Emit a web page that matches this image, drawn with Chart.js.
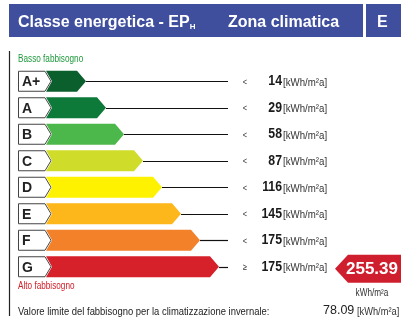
<!DOCTYPE html>
<html>
<head>
<meta charset="utf-8">
<script src="https://cdn.jsdelivr.net/npm/chart.js@4.4.0/dist/chart.umd.min.js"></script>
<style>
  body { margin: 0; background: #fff; }
  #wrap { position: relative; width: 411px; height: 326px; overflow: hidden; }
  #c { position: absolute; left: 0; top: 0; }
  #hdr { position: absolute; left: 9px; top: 4px; width: 392px; height: 33px; background: #3f4f9e;
         color: #fff; font: bold 16px "Liberation Sans", Arial, sans-serif; }
  #hdr span { position: absolute; top: 1px; line-height: 33px; white-space: nowrap; }
  #hdr sub { font-size: 8px; vertical-align: -2px; }
  #hdr .sep { position: absolute; left: 354px; top: 0; width: 3px; height: 33px; background: #fff; }
</style>
</head>
<body>
<div id="wrap">
  <canvas id="c" width="411" height="326"></canvas>
  <div id="hdr">
    <span style="left:9px">Classe energetica - EP<sub>H</sub></span>
    <span style="left:219px">Zona climatica</span>
    <div class="sep"></div>
    <span style="left:368px" id="zone"></span>
  </div>
</div>
<script>
const classes = ['A+', 'A', 'B', 'C', 'D', 'E', 'F', 'G'];
const barLengths = [40, 60, 78, 97, 116, 135, 154, 173];
const limitOps = ['<', '<', '<', '<', '<', '<', '<', '\u2265'];
const limitValues = [14, 29, 58, 87, 116, 145, 175, 175];
const classColors = ['#0b5f2d', '#0e7a3a', '#4cb74a', '#cfdd2a', '#fff200', '#fdb71a', '#f2812a', '#d6202a'];
const unitLabel = '[kWh/m\u00b2a]';
const epValue = 255.39;
const limitValue = 78.09;
const zone = 'E';

document.getElementById('zone').textContent = zone;

// narrow font if installed, otherwise squeeze the normal one
function hasFont(name) {
  const c = document.createElement('canvas').getContext('2d');
  c.font = '20px monospace';
  const a = c.measureText('abcdefgWWWiii').width;
  c.font = '20px "' + name + '", monospace';
  return c.measureText('abcdefgWWWiii').width !== a;
}
const narrowOk = hasFont('Liberation Sans Narrow');

function narrowText(ctx, txt, x, y, size, weight, align) {
  ctx.save();
  ctx.textAlign = align || 'left';
  ctx.textBaseline = 'middle';
  if (narrowOk) {
    ctx.font = (weight || '') + ' ' + size + 'px "Liberation Sans Narrow"';
    ctx.fillText(txt, x, y);
  } else {
    ctx.font = (weight || '') + ' ' + size + 'px "Liberation Sans", Arial';
    ctx.translate(x, y);
    ctx.scale(0.82, 1);
    ctx.fillText(txt, 0, 0);
  }
  ctx.restore();
}

const labelPlugin = {
  id: 'energyLabel',
  afterDraw(chart) {
    const ctx = chart.ctx;
    const area = chart.chartArea;
    const bars = chart.getDatasetMeta(0).data;

    // left rule
    ctx.save();
    ctx.strokeStyle = '#222';
    ctx.lineWidth = 1.2;
    ctx.beginPath();
    ctx.moveTo(9.5, 51);
    ctx.lineTo(9.5, 316);
    ctx.stroke();

    ctx.fillStyle = '#1f9a3c';
    narrowText(ctx, 'Basso fabbisogno', 18, 59, 10);

    bars.forEach((bar, i) => {
      const top = bar.y - bar.height / 2;
      const bot = bar.y + bar.height / 2;
      const x0 = bar.base;
      const x1 = bar.x;

      // class box
      ctx.beginPath();
      ctx.moveTo(18.5, top + 0.5);
      ctx.lineTo(x0 - 1, top + 0.5);
      ctx.lineTo(x0 + 5, bar.y);
      ctx.lineTo(x0 - 1, bot - 0.5);
      ctx.lineTo(18.5, bot - 0.5);
      ctx.closePath();
      ctx.fillStyle = '#fff';
      ctx.fill();
      ctx.strokeStyle = '#444';
      ctx.lineWidth = 1;
      ctx.stroke();
      ctx.fillStyle = '#222';
      ctx.font = 'bold 14px "Liberation Sans", Arial';
      ctx.textAlign = 'left';
      ctx.textBaseline = 'middle';
      ctx.fillText(classes[i], 22, bar.y + 1);

      // arrow bar
      ctx.beginPath();
      ctx.moveTo(x0, top);
      ctx.lineTo(x1 - 9, top);
      ctx.lineTo(x1, bar.y);
      ctx.lineTo(x1 - 9, bot);
      ctx.lineTo(x0, bot);
      ctx.lineTo(x0 + 6, bar.y);
      ctx.closePath();
      ctx.fillStyle = classColors[i];
      ctx.fill();

      // leader line
      const ly = Math.round(bar.y) + 0.5;
      ctx.strokeStyle = '#111';
      ctx.lineWidth = 1.2;
      ctx.beginPath();
      ctx.moveTo(x1, ly);
      ctx.lineTo(area.right, ly);
      ctx.stroke();

      // limits
      ctx.fillStyle = '#333';
      narrowText(ctx, limitOps[i], area.right + 17, bar.y + 1, 9, '', 'center');
      ctx.fillStyle = '#1a1a1a';
      narrowText(ctx, String(limitValues[i]), area.right + 54, bar.y, 15, 'bold', 'right');
      ctx.fillStyle = '#333';
      narrowText(ctx, unitLabel, area.right + 55, bar.y + 1, 11.8, '', 'left');
    });

    ctx.fillStyle = '#d0202a';
    narrowText(ctx, 'Alto fabbisogno', 18, 286, 10);

    // value badge on last class
    const g = bars[bars.length - 1];
    const cy = g.y + 2;
    ctx.beginPath();
    ctx.moveTo(335, cy);
    ctx.lineTo(348, cy - 14);
    ctx.lineTo(401, cy - 14);
    ctx.lineTo(401, cy + 14);
    ctx.lineTo(348, cy + 14);
    ctx.closePath();
    ctx.fillStyle = '#cf1f2e';
    ctx.fill();
    ctx.fillStyle = '#fff';
    ctx.font = 'bold 17px "Liberation Sans", Arial';
    ctx.textAlign = 'center';
    ctx.textBaseline = 'middle';
    ctx.fillText(epValue.toFixed(2), 372, cy + 1);
    ctx.fillStyle = '#333';
    narrowText(ctx, 'kWh/m\u00b2a', 372, cy + 24, 10, '', 'center');

    // footer
    ctx.fillStyle = '#222';
    narrowText(ctx, 'Valore limite del fabbisogno per la climatizzazione invernale:', 18, 312, 11.5);
    ctx.font = '12.5px "Liberation Sans", Arial';
    ctx.textAlign = 'left';
    ctx.textBaseline = 'middle';
    ctx.fillText(limitValue.toFixed(2), 323, 311);
    ctx.fillStyle = '#333';
    narrowText(ctx, unitLabel, 357, 312, 11.3);
    ctx.restore();
  }
};

new Chart(document.getElementById('c'), {
  type: 'bar',
  data: {
    labels: classes,
    datasets: [{ data: barLengths, backgroundColor: 'rgba(0,0,0,0)', barThickness: 21 }]
  },
  options: {
    indexAxis: 'y',
    responsive: false,
    animation: false,
    layout: { padding: { left: 46, right: 183, top: 68, bottom: 46 } },
    plugins: { legend: { display: false }, tooltip: { enabled: false } },
    scales: {
      x: { display: false, min: 0, max: 182 },
      y: { display: false }
    }
  },
  plugins: [labelPlugin]
});
</script>
</body>
</html>
